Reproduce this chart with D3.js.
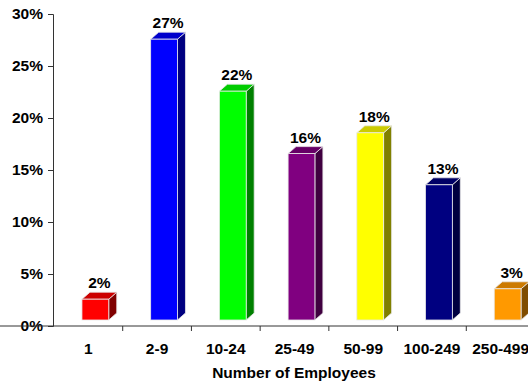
<!DOCTYPE html>
<html>
<head>
<meta charset="utf-8">
<script src="https://cdn.jsdelivr.net/npm/d3@7"></script>
<style>
  body { margin: 0; background: #fff; }
  text { font-family: "Liberation Sans", Arial, sans-serif; font-weight: bold; }
</style>
</head>
<body>
<svg id="chart" width="528" height="381"></svg>
<script>
// data
const categories = ["1", "2-9", "10-24", "25-49", "50-99", "100-249", "250-499"];
const values = [2, 27, 22, 16, 18, 13, 3];
const frontColors = ["#ff0000", "#0000ff", "#00ff00", "#800080", "#ffff00", "#000080", "#ff9900"];
const topColors = ["#cc0000", "#0000cc", "#00cc00", "#660066", "#cccc00", "#000066", "#cc7a00"];
const sideColors = ["#800000", "#000080", "#008000", "#400040", "#808000", "#000040", "#804d00"];
const yTicks = [0, 5, 10, 15, 20, 25, 30];

const svg = d3.select("#chart");

const x = d3.scaleBand().domain(categories).range([54, 535]);
const y = d3.scaleLinear().domain([0, 30]).range([326, 14]);

const dx = 8, dy = 7, lift = 6, shift = 7;
const fw = x.bandwidth() * 0.39;

// axes
const yAxis = svg.append("g")
  .attr("transform", "translate(53,0)")
  .call(d3.axisLeft(y).tickValues(yTicks).tickSize(5).tickPadding(5).tickFormat(d => d + "%"));
yAxis.selectAll("text").style("font-size", "15.5px").attr("fill", "#000");
yAxis.selectAll("line, path").attr("stroke", "#333");

const xAxis = svg.append("g")
  .attr("transform", "translate(0,326)")
  .call(d3.axisBottom(x).tickSize(0).tickPadding(17));
xAxis.selectAll("text").style("font-size", "15.5px").attr("fill", "#000");
xAxis.select("path").attr("stroke", "#333").attr("d", "M-1,0H528");
// tick marks at category boundaries
xAxis.selectAll(".sep")
  .data(categories.slice(1))
  .enter().append("line")
  .attr("x1", d => x(d)).attr("x2", d => x(d))
  .attr("y1", 0).attr("y2", 5)
  .attr("stroke", "#333");

svg.append("text")
  .attr("x", 294).attr("y", 378)
  .attr("text-anchor", "middle")
  .style("font-size", "15.5px")
  .text("Number of Employees");

// 3D bars
const bars = svg.selectAll(".bar")
  .data(values)
  .enter().append("g")
  .attr("class", "bar");

bars.each(function (v, i) {
  const g = d3.select(this);
  const fl = x(categories[i]) + x.bandwidth() / 2 - fw / 2 + shift;
  const fr = fl + fw;
  const ft = y(v) - lift;
  const fb = y(0) - lift;
  g.append("polygon")
    .attr("points", [[fr, ft], [fr + dx, ft - dy], [fr + dx, fb - dy], [fr, fb]].join(" "))
    .attr("fill", sideColors[i]).attr("stroke", "#e8e8e8").attr("stroke-width", 0.8);
  g.append("polygon")
    .attr("points", [[fl, ft], [fl + dx, ft - dy], [fr + dx, ft - dy], [fr, ft]].join(" "))
    .attr("fill", topColors[i]).attr("stroke", "#e8e8e8").attr("stroke-width", 0.8);
  g.append("rect")
    .attr("x", fl).attr("y", ft).attr("width", fw).attr("height", fb - ft)
    .attr("fill", frontColors[i]).attr("stroke", "#e8e8e8").attr("stroke-width", 0.8);
  g.append("text")
    .attr("x", fl + (fw + dx) / 2).attr("y", ft - dy - 4)
    .attr("text-anchor", "middle")
    .style("font-size", "15.5px")
    .text(v + "%");
});
</script>
</body>
</html>
